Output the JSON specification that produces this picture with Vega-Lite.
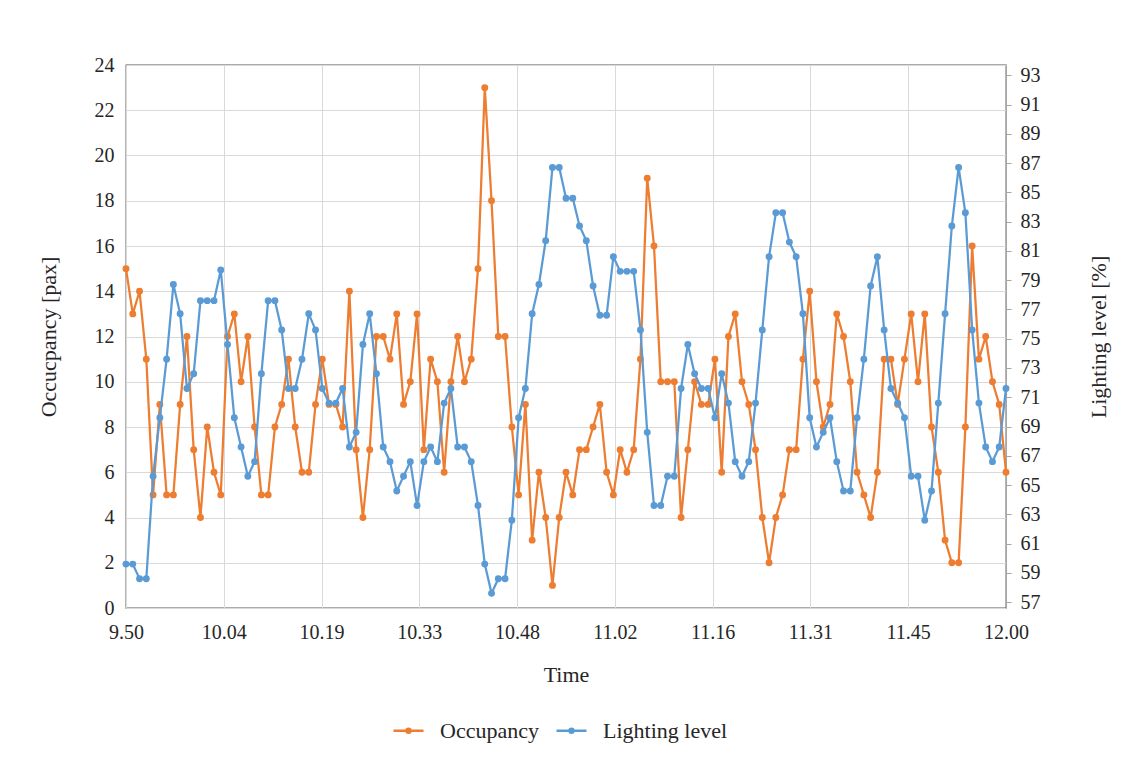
{
  "$schema": "https://vega.github.io/schema/vega-lite/v6.json",
  "width": 880,
  "height": 543,
  "autosize": {"type": "none"},
  "padding": {"left": 126, "top": 65, "right": 126, "bottom": 170},
  "background": "white",
  "config": {
    "view": {"stroke": "#595959", "strokeWidth": 1.3},
    "font": "Liberation Serif",
    "axis": {
      "labelFont": "Liberation Serif",
      "titleFont": "Liberation Serif",
      "labelColor": "#262626",
      "titleColor": "#262626",
      "titleFontWeight": "normal",
      "gridColor": "#d9d9d9",
      "gridWidth": 1
    }
  },
  "data": {
    "values": [
      {"t":0,"occ":15,"light":59.6},{"t":1,"occ":13,"light":59.6},{"t":2,"occ":14,"light":58.6},{"t":3,"occ":11,"light":58.6},{"t":4,"occ":5,"light":65.6},
      {"t":5,"occ":9,"light":69.6},{"t":6,"occ":5,"light":73.6},{"t":7,"occ":5,"light":78.7},{"t":8,"occ":9,"light":76.7},{"t":9,"occ":12,"light":71.6},
      {"t":10,"occ":7,"light":72.6},{"t":11,"occ":4,"light":77.6},{"t":12,"occ":8,"light":77.6},{"t":13,"occ":6,"light":77.6},{"t":14,"occ":5,"light":79.7},
      {"t":15,"occ":12,"light":74.6},{"t":16,"occ":13,"light":69.6},{"t":17,"occ":10,"light":67.6},{"t":18,"occ":12,"light":65.6},{"t":19,"occ":8,"light":66.6},
      {"t":20,"occ":5,"light":72.6},{"t":21,"occ":5,"light":77.6},{"t":22,"occ":8,"light":77.6},{"t":23,"occ":9,"light":75.6},{"t":24,"occ":11,"light":71.6},
      {"t":25,"occ":8,"light":71.6},{"t":26,"occ":6,"light":73.6},{"t":27,"occ":6,"light":76.7},{"t":28,"occ":9,"light":75.6},{"t":29,"occ":11,"light":71.6},
      {"t":30,"occ":9,"light":70.6},{"t":31,"occ":9,"light":70.6},{"t":32,"occ":8,"light":71.6},{"t":33,"occ":14,"light":67.6},{"t":34,"occ":7,"light":68.6},
      {"t":35,"occ":4,"light":74.6},{"t":36,"occ":7,"light":76.7},{"t":37,"occ":12,"light":72.6},{"t":38,"occ":12,"light":67.6},{"t":39,"occ":11,"light":66.6},
      {"t":40,"occ":13,"light":64.6},{"t":41,"occ":9,"light":65.6},{"t":42,"occ":10,"light":66.6},{"t":43,"occ":13,"light":63.6},{"t":44,"occ":7,"light":66.6},
      {"t":45,"occ":11,"light":67.6},{"t":46,"occ":10,"light":66.6},{"t":47,"occ":6,"light":70.6},{"t":48,"occ":10,"light":71.6},{"t":49,"occ":12,"light":67.6},
      {"t":50,"occ":10,"light":67.6},{"t":51,"occ":11,"light":66.6},{"t":52,"occ":15,"light":63.6},{"t":53,"occ":23,"light":59.6},{"t":54,"occ":18,"light":57.6},
      {"t":55,"occ":12,"light":58.6},{"t":56,"occ":12,"light":58.6},{"t":57,"occ":8,"light":62.6},{"t":58,"occ":5,"light":69.6},{"t":59,"occ":9,"light":71.6},
      {"t":60,"occ":3,"light":76.7},{"t":61,"occ":6,"light":78.7},{"t":62,"occ":4,"light":81.7},{"t":63,"occ":1,"light":86.7},{"t":64,"occ":4,"light":86.7},
      {"t":65,"occ":6,"light":84.6},{"t":66,"occ":5,"light":84.6},{"t":67,"occ":7,"light":82.7},{"t":68,"occ":7,"light":81.7},{"t":69,"occ":8,"light":78.6},
      {"t":70,"occ":9,"light":76.6},{"t":71,"occ":6,"light":76.6},{"t":72,"occ":5,"light":80.6},{"t":73,"occ":7,"light":79.6},{"t":74,"occ":6,"light":79.6},
      {"t":75,"occ":7,"light":79.6},{"t":76,"occ":11,"light":75.6},{"t":77,"occ":19,"light":68.6},{"t":78,"occ":16,"light":63.6},{"t":79,"occ":10,"light":63.6},
      {"t":80,"occ":10,"light":65.6},{"t":81,"occ":10,"light":65.6},{"t":82,"occ":4,"light":71.6},{"t":83,"occ":7,"light":74.6},{"t":84,"occ":10,"light":72.6},
      {"t":85,"occ":9,"light":71.6},{"t":86,"occ":9,"light":71.6},{"t":87,"occ":11,"light":69.6},{"t":88,"occ":6,"light":72.6},{"t":89,"occ":12,"light":70.6},
      {"t":90,"occ":13,"light":66.6},{"t":91,"occ":10,"light":65.6},{"t":92,"occ":9,"light":66.6},{"t":93,"occ":7,"light":70.6},{"t":94,"occ":4,"light":75.6},
      {"t":95,"occ":2,"light":80.6},{"t":96,"occ":4,"light":83.6},{"t":97,"occ":5,"light":83.6},{"t":98,"occ":7,"light":81.6},{"t":99,"occ":7,"light":80.6},
      {"t":100,"occ":11,"light":76.7},{"t":101,"occ":14,"light":69.6},{"t":102,"occ":10,"light":67.6},{"t":103,"occ":8,"light":68.6},{"t":104,"occ":9,"light":69.6},
      {"t":105,"occ":13,"light":66.6},{"t":106,"occ":12,"light":64.6},{"t":107,"occ":10,"light":64.6},{"t":108,"occ":6,"light":69.6},{"t":109,"occ":5,"light":73.6},
      {"t":110,"occ":4,"light":78.6},{"t":111,"occ":6,"light":80.6},{"t":112,"occ":11,"light":75.6},{"t":113,"occ":11,"light":71.6},{"t":114,"occ":9,"light":70.6},
      {"t":115,"occ":11,"light":69.6},{"t":116,"occ":13,"light":65.6},{"t":117,"occ":10,"light":65.6},{"t":118,"occ":13,"light":62.6},{"t":119,"occ":8,"light":64.6},
      {"t":120,"occ":6,"light":70.6},{"t":121,"occ":3,"light":76.7},{"t":122,"occ":2,"light":82.7},{"t":123,"occ":2,"light":86.7},{"t":124,"occ":8,"light":83.6},
      {"t":125,"occ":16,"light":75.6},{"t":126,"occ":11,"light":70.6},{"t":127,"occ":12,"light":67.6},{"t":128,"occ":10,"light":66.6},{"t":129,"occ":9,"light":67.6},
      {"t":130,"occ":6,"light":71.6}
    ]
  },
  "encoding": {
    "x": {
      "field": "t",
      "type": "quantitative",
      "scale": {"domain": [0, 130], "nice": false, "zero": false},
      "axis": {
        "title": "Time",
        "values": [0, 14.4444, 28.8889, 43.3333, 57.7778, 72.2222, 86.6667, 101.1111, 115.5556, 130],
        "labelExpr": "['9.50','10.04','10.19','10.33','10.48','11.02','11.16','11.31','11.45','12.00'][round(datum.value*9/130)]",
        "labelFontSize": 20,
        "titleFontSize": 22,
        "ticks": false,
        "domain": false,
        "grid": true,
        "labelPadding": 14,
        "titlePadding": 22,
        "labelFlush": false
      }
    }
  },
  "layer": [
    {
      "encoding": {
        "y": {
          "field": "occ",
          "type": "quantitative",
          "scale": {"domain": [0, 24], "nice": false},
          "axis": {
            "orient": "left",
            "title": "Occucpancy [pax]",
            "values": [0, 2, 4, 6, 8, 10, 12, 14, 16, 18, 20, 22, 24],
            "labelFontSize": 20,
            "titleFontSize": 22,
            "ticks": false,
            "domain": false,
            "grid": true,
            "labelPadding": 12,
            "titlePadding": 34
          }
        },
        "color": {
          "datum": "Occupancy",
          "type": "nominal",
          "scale": {"domain": ["Occupancy", "Lighting level"], "range": ["#ED7D31", "#5B9BD5"]},
          "legend": {
            "title": null,
            "orient": "none",
            "legendX": 266,
            "legendY": 649,
            "direction": "horizontal",
            "labelFont": "Liberation Serif",
            "labelFontSize": 22,
            "labelColor": "#262626",
            "symbolType": "M-1,0H1M0.13,0A0.13,0.13 0 1 1 -0.13,0A0.13,0.13 0 1 1 0.13,0",
            "symbolSize": 900,
            "symbolStrokeWidth": 2.5,
            "labelOffset": 15,
            "columnPadding": 12
          }
        }
      },
      "layer": [
        {"mark": {"type": "line", "strokeWidth": 2.25}},
        {"mark": {"type": "point", "filled": true, "size": 48, "opacity": 1}}
      ]
    },
    {
      "encoding": {
        "y": {
          "field": "light",
          "type": "quantitative",
          "scale": {"domain": [56.6, 93.7], "nice": false, "zero": false},
          "axis": {
            "orient": "right",
            "title": "Lighting level [%]",
            "titleAngle": 270,
            "values": [57, 59, 61, 63, 65, 67, 69, 71, 73, 75, 77, 79, 81, 83, 85, 87, 89, 91, 93],
            "labelFontSize": 20,
            "titleFontSize": 22,
            "ticks": true,
            "tickSize": 5,
            "tickColor": "#a6a6a6",
            "domain": true,
            "domainColor": "#a6a6a6",
            "grid": false,
            "labelPadding": 9,
            "titlePadding": 70
          }
        },
        "color": {"datum": "Lighting level", "type": "nominal"}
      },
      "layer": [
        {"mark": {"type": "line", "strokeWidth": 2.25}},
        {"mark": {"type": "point", "filled": true, "size": 48, "opacity": 1}}
      ]
    }
  ],
  "resolve": {"scale": {"y": "independent"}}
}
